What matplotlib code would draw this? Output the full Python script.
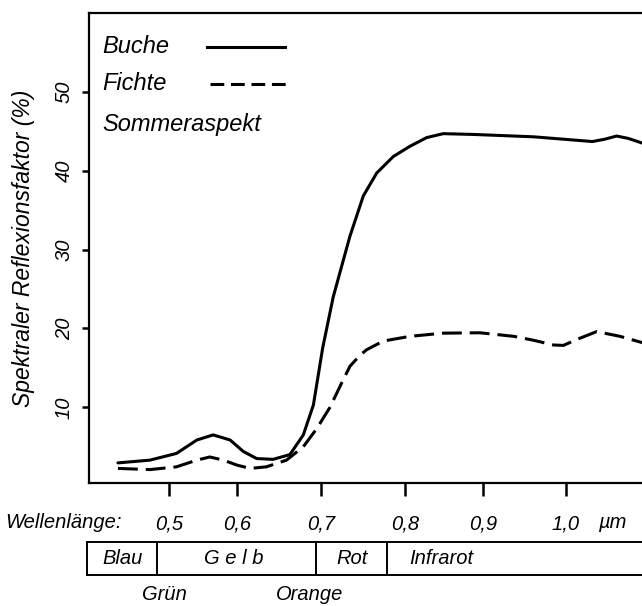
import numpy as np
import matplotlib
matplotlib.use('Agg')
import matplotlib.pyplot as plt

# Reflexionskurven (Wellenlaenge in um, Reflexion in %)
buche_wl = [0.425, 0.472, 0.511, 0.541, 0.565, 0.590, 0.6075, 0.6235, 0.643, 0.663,
            0.679, 0.691, 0.702, 0.7146, 0.7345, 0.7504, 0.7663, 0.7861, 0.8064, 0.8278,
            0.8491, 0.8876, 0.961, 1.032, 1.047, 1.061, 1.075, 1.092]
buche_refl = [2.95, 3.3, 4.15, 5.85, 6.5, 5.85, 4.4, 3.5, 3.4, 4.0,
              6.5, 10.3, 17.5, 24.0, 31.7, 36.8, 39.7, 41.8, 43.1, 44.2,
              44.7, 44.6, 44.3, 43.7, 44.0, 44.4, 44.1, 43.5]

fichte_wl = [0.425, 0.472, 0.511, 0.541, 0.560, 0.580, 0.600, 0.6155, 0.635, 0.659,
             0.679, 0.695, 0.7107, 0.7265, 0.7345, 0.7464, 0.7544, 0.7742, 0.8064, 0.8491,
             0.896, 0.937, 0.961, 0.985, 0.997, 1.013, 1.037, 1.065, 1.092]
fichte_refl = [2.25, 2.1, 2.45, 3.3, 3.7, 3.3, 2.67, 2.25, 2.45, 3.3,
               5.0, 7.3, 10.0, 13.5, 15.2, 16.6, 17.3, 18.4, 19.0, 19.4,
               19.45, 19.0, 18.5, 17.9, 17.85, 18.6, 19.6, 19.0, 18.2]

x_ticks = [0.5, 0.6, 0.7, 0.8, 0.9, 1.0]
x_ticklabels = ['0,5', '0,6', '0,7', '0,8', '0,9', '1,0']
y_ticks = [10, 20, 30, 40, 50]

# Farbbereiche unter der Achse
band_edges = [0.485, 0.695, 0.78]
band_names = ['Blau', 'G e l b', 'Rot', 'Infrarot']
band_label_x = [0.434, 0.597, 0.738, 0.806]
band_below = ['Grün', 'Orange']
band_below_x = [0.496, 0.688]

# die Originalgrafik hat eine ungleichmaessige Wellenlaengenachse
scale_wl = [0.3, 0.4, 0.5, 0.6, 0.7, 0.8, 0.9, 1.0, 1.1, 1.2]
scale_pos = [33, 101, 169, 237, 321, 405, 483, 566, 649, 732]


def fwd(w):
    return np.interp(w, scale_wl, scale_pos)


def inv(p):
    return np.interp(p, scale_pos, scale_wl)


plt.rcParams['font.family'] = ['Liberation Sans', 'DejaVu Sans']
legend_font = ['Liberation Sans Narrow', 'Liberation Sans', 'DejaVu Sans']

fig = plt.figure(figsize=(6.42, 6.06), dpi=100)
W, H = 642, 606
xlim = (0.3824, 1.1133)

ax = fig.add_axes([89 / W, (H - 483) / H, (660 - 89) / W, 470 / H])
ax.set_xscale('function', functions=(fwd, inv))
ax.plot(buche_wl, buche_refl, color='black', lw=2.2, solid_capstyle='round',
        solid_joinstyle='round')
ax.plot(fichte_wl, fichte_refl, color='black', lw=2.2, dashes=(6.5, 2.6))
ax.set_xlim(*xlim)
ax.set_ylim(0.4, 60)

for s in ['left', 'bottom', 'top']:
    ax.spines[s].set_linewidth(1.6)
ax.spines['right'].set_visible(False)

ax.set_xticks(x_ticks)
ax.set_xticklabels(x_ticklabels, fontsize=14.5, style='italic')
ax.xaxis.set_minor_locator(plt.NullLocator())
ax.tick_params(axis='x', direction='out', length=9, width=1.8, pad=14)
ax.set_yticks(y_ticks)
ax.set_yticklabels([str(v) for v in y_ticks], fontsize=14.5, style='italic',
                   rotation=90, va='center')
ax.tick_params(axis='y', direction='out', length=5, width=1.8, pad=6)
ax.set_ylabel('Spektraler Reflexionsfaktor (%)', fontsize=16.5, style='italic')
ax.yaxis.set_label_coords(-(89 - 35) / 571, 0.5)

# Legende
ax.text(0.0228, 0.928, 'Buche', transform=ax.transAxes, fontsize=17,
        style='italic', family=legend_font, va='center')
ax.plot([0.207, 0.343], [0.928, 0.928], transform=ax.transAxes, color='black', lw=2.2)
ax.text(0.0228, 0.849, 'Fichte', transform=ax.transAxes, fontsize=17,
        style='italic', family=legend_font, va='center')
ax.plot([0.212, 0.352], [0.849, 0.849], transform=ax.transAxes, color='black',
        lw=2.2, dashes=(4.5, 2.2))
ax.text(0.0228, 0.762, 'Sommeraspekt', transform=ax.transAxes, fontsize=17,
        style='italic', family=legend_font, va='center')

fig.text(5 / W, 1 - 522 / H, 'Wellenlänge:', fontsize=14.5, style='italic', va='center')
fig.text(598 / W, 1 - 522 / H, 'µm', fontsize=14.5, style='italic', va='center')

# Farbband
bx = fig.add_axes([87 / W, (H - 575) / H, (660 - 87) / W, 33 / H])
bx.set_xscale('function', functions=(fwd, inv))
bx.set_xlim(*xlim)
bx.set_ylim(0, 1)
bx.set_xticks([])
bx.set_yticks([])
for s in ['left', 'bottom', 'top']:
    bx.spines[s].set_linewidth(1.4)
bx.spines['right'].set_visible(False)
for e in band_edges:
    bx.axvline(e, color='black', lw=1.4)
for name, xc in zip(band_names, band_label_x):
    bx.text(xc, 0.5, name, fontsize=14.5, style='italic', va='center',
            ha='left' if name == 'Infrarot' else 'center')
for name, xc in zip(band_below, band_below_x):
    bx.text(xc, -0.6, name, fontsize=14.5, style='italic', va='center', ha='center',
            clip_on=False)

fig.savefig('out.png', dpi=100)
